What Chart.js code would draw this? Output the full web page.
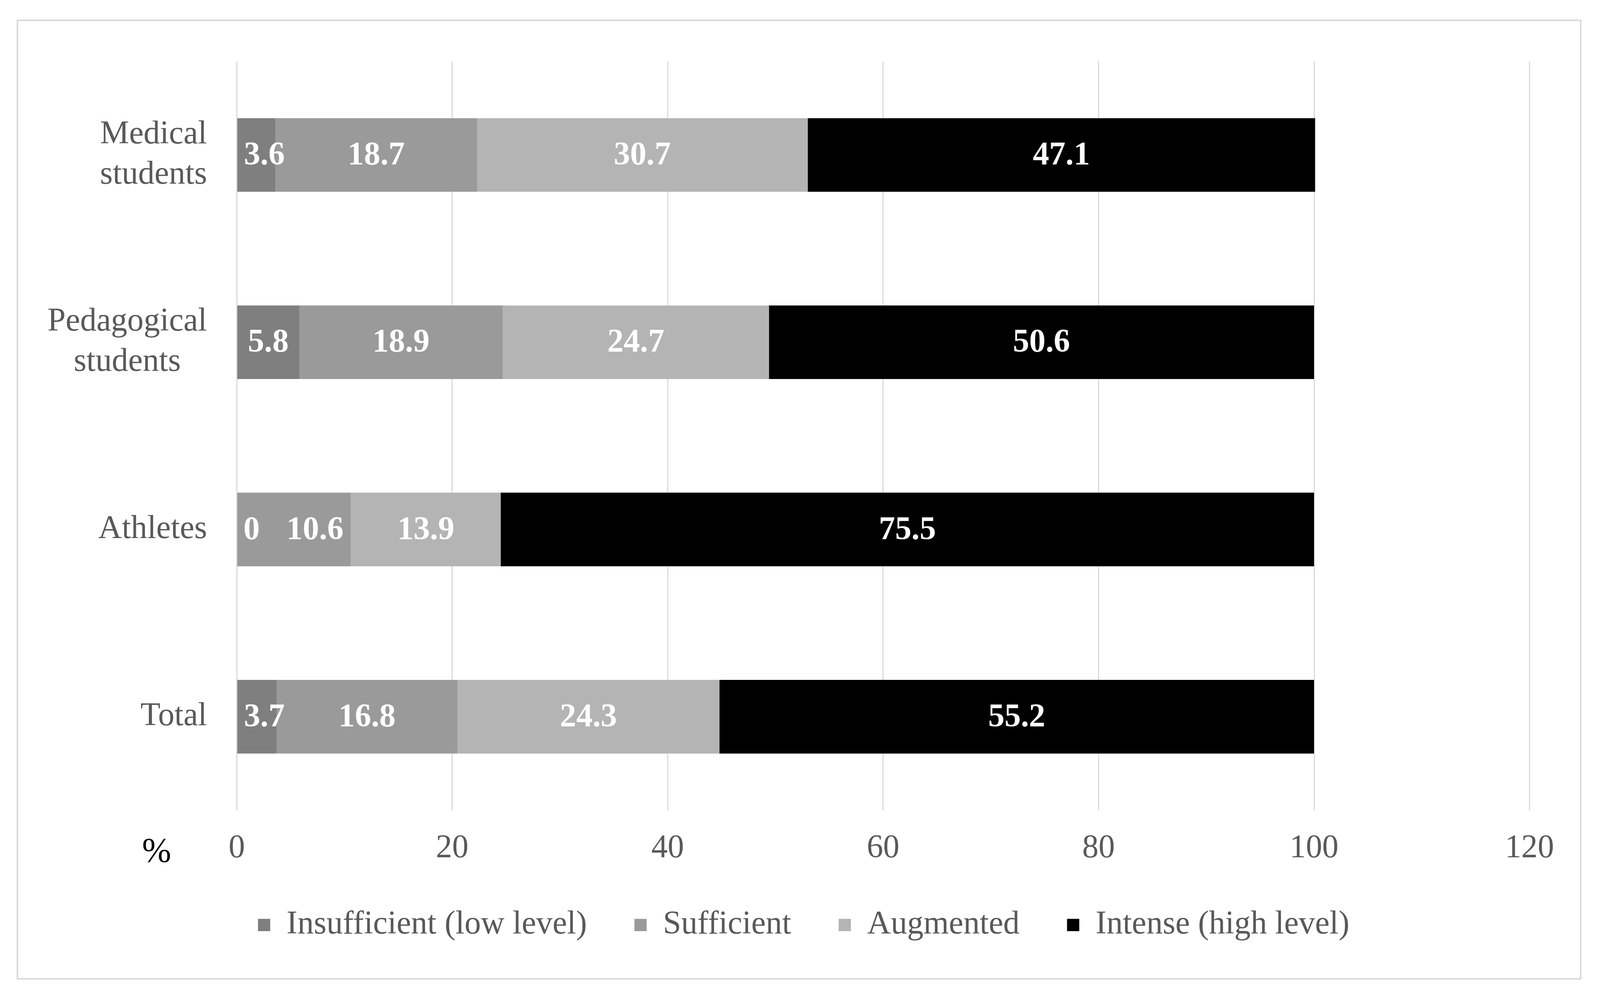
<!DOCTYPE html>
<html>
<head>
<meta charset="utf-8">
<script src="https://cdn.jsdelivr.net/npm/chart.js@4/dist/chart.umd.min.js"></script>
<style>
  html, body { margin: 0; padding: 0; background: #fff; overflow: hidden; }
  #wrap { width: 100vw; height: 100vh; position: relative; }
  canvas { display: block; }
</style>
</head>
<body>
<div id="wrap"><canvas id="chart"></canvas></div>
<script>
// groups on the y axis (each entry = lines of the label)
const groups = [['Medical', 'students'], ['Pedagogical', 'students'], ['Athletes'], ['Total']];
const levels = ['Insufficient (low level)', 'Sufficient', 'Augmented', 'Intense (high level)'];
const insufficient = [3.6, 5.8, 0, 3.7];
const sufficient   = [18.7, 18.9, 10.6, 16.8];
const augmented    = [30.7, 24.7, 13.9, 24.3];
const intense      = [47.1, 50.6, 75.5, 55.2];
const xTicks = [0, 20, 40, 60, 80, 100, 120];
const axisUnit = '%';

const FONT = "'Liberation Serif', 'Times New Roman', serif";
const GREY_TXT = '#595959';
const colors = ['#7f7f7f', '#9a9a9a', '#b4b4b4', '#000000'];
Chart.defaults.font.family = FONT;

// everything below is laid out for a 4312 x 2572 page, scaled to the real viewport
const S = window.innerWidth / 4312;
const SY = window.innerHeight / 2572;
const px = v => v * S;
const py = v => v * SY;
const fs = 88 * S;

// frame + y labels + "%" + segment values
const decor = {
  id: 'decor',
  beforeDraw(chart) {
    const c = chart.ctx;
    c.save();
    c.fillStyle = '#fff';
    c.fillRect(0, 0, chart.width, chart.height);
    c.strokeStyle = '#d9d9d9';
    c.lineWidth = px(4);
    c.strokeRect(px(47), py(52), px(4213), py(2453));
    c.restore();
  },
  afterDatasetsDraw(chart) {
    const c = chart.ctx;
    c.save();
    c.font = 'bold ' + fs + 'px ' + FONT;
    c.fillStyle = '#fff';
    c.textAlign = 'center';
    c.textBaseline = 'middle';
    const lastRight = [];
    chart.data.datasets.forEach((ds, di) => {
      chart.getDatasetMeta(di).data.forEach((bar, i) => {
        const txt = String(ds.data[i]);
        const w = c.measureText(txt).width;
        const left = Math.min(bar.x, bar.base);
        let x = (bar.x + bar.base) / 2;
        x = Math.max(x, left + w / 2 + px(18));
        // keep neighbouring labels apart (like the "0" next to "10.6")
        if (lastRight[i] !== undefined) x = Math.max(x, lastRight[i] + px(72) + w / 2);
        lastRight[i] = x + w / 2;
        c.fillText(txt, x, bar.y + py(3));
      });
    });
    c.restore();
  },
  afterDraw(chart) {
    const c = chart.ctx, y = chart.scales.y;
    c.save();
    c.font = fs + 'px ' + FONT;
    c.fillStyle = GREY_TXT;
    c.textAlign = 'center';
    c.textBaseline = 'middle';
    const right = px(558), lh = py(103);
    groups.forEach((lines, i) => {
      const cy = y.getPixelForTick(i);
      const bw = Math.max(...lines.map(l => c.measureText(l).width));
      lines.forEach((l, k) => {
        c.fillText(l, right - bw / 2, cy + (k - (lines.length - 1) / 2) * lh);
      });
    });
    c.font = (94 * S) + 'px ' + FONT;
    c.fillStyle = '#000';
    c.fillText(axisUnit, px(422), py(2182));
    c.restore();
  }
};

const mk = (label, data, i) => ({
  label, data, backgroundColor: colors[i], borderWidth: 0,
  barPercentage: 0.393, categoryPercentage: 1
});

new Chart(document.getElementById('chart'), {
  type: 'bar',
  data: {
    labels: groups.map(g => g.join(' ')),
    datasets: [
      mk(levels[0], insufficient, 0),
      mk(levels[1], sufficient, 1),
      mk(levels[2], augmented, 2),
      mk(levels[3], intense, 3)
    ]
  },
  options: {
    indexAxis: 'y',
    responsive: true,
    maintainAspectRatio: false,
    animation: false,
    layout: { padding: { left: px(210), right: px(190), top: py(157), bottom: py(153) } },
    scales: {
      x: {
        stacked: true, min: 0, max: 120,
        afterBuildTicks: s => { s.ticks = xTicks.map(v => ({ value: v })); },
        afterFit: s => { s.height = py(130); },
        grid: { color: '#d9d9d9', lineWidth: px(3), drawTicks: false },
        border: { display: false },
        ticks: { color: GREY_TXT, padding: py(56), font: { size: fs, lineHeight: 1 } }
      },
      y: {
        stacked: true,
        afterFit: s => { s.width = px(428); },
        grid: { display: false },
        border: { display: false },
        ticks: { display: false }
      }
    },
    plugins: {
      legend: {
        position: 'bottom',
        labels: { color: GREY_TXT, boxWidth: px(33), boxHeight: px(33), padding: px(128), font: { size: fs } }
      },
      tooltip: { enabled: false }
    }
  },
  plugins: [decor]
});
</script>
</body>
</html>
